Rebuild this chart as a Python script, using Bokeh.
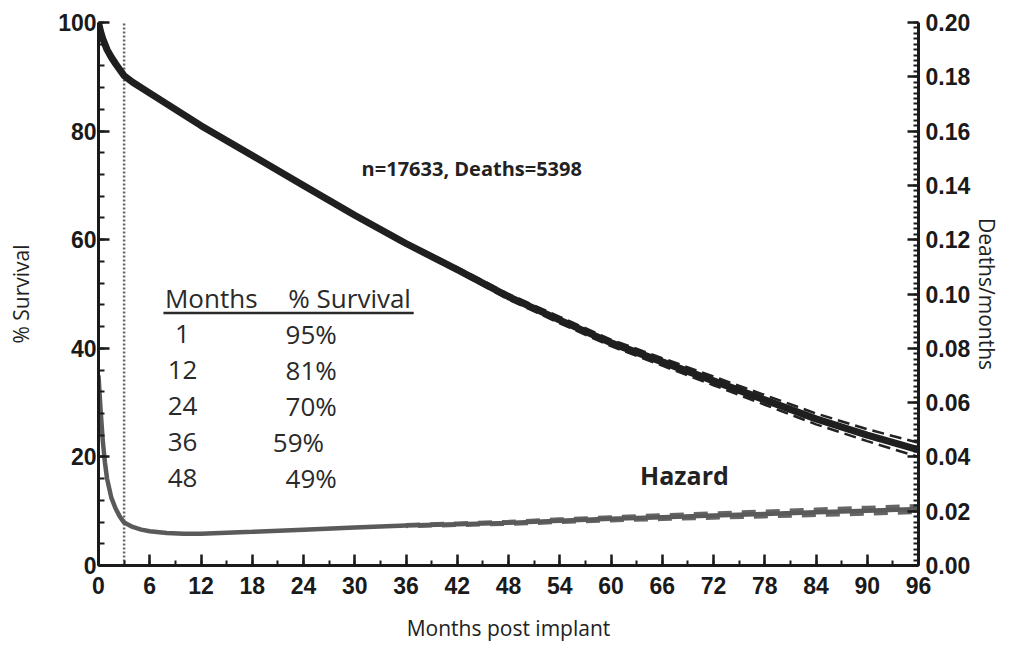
from bokeh.plotting import figure
from bokeh.models import (Range1d, LinearAxis, SingleIntervalTicker, NumeralTickFormatter, Label)
from bokeh.core.properties import value
from bokeh.embed import file_html
from bokeh.resources import INLINE

# ---------------- data ----------------
surv_months = [0, 0.25, 0.5, 1, 1.5, 2, 3, 4, 6, 9, 12, 18, 24, 30, 36, 42, 48, 54, 60, 66, 72, 78, 84, 90, 96]
survival = [100, 98.3, 97, 95, 93.6, 92.4, 90.2, 89, 87, 84, 81, 75.5, 70, 64.5, 59.3, 54.5, 49.5, 45.2, 41, 37.5, 34, 30.5, 27, 24, 21.3]

surv_ci_months = [36, 42, 48, 54, 60, 66, 72, 78, 84, 90, 96]
surv_upper = [59.6, 54.9, 50.0, 45.8, 41.6, 38.2, 34.8, 31.4, 28.0, 25.1, 22.6]
surv_lower = [59.0, 54.1, 49.0, 44.6, 40.4, 36.8, 33.2, 29.6, 26.0, 22.9, 20.0]

haz_months = [0, 0.25, 0.5, 0.75, 1, 1.5, 2, 2.5, 3, 4, 5, 6, 8, 10, 12, 18, 24, 30, 36, 42, 48, 54, 60, 66, 72, 78, 84, 90, 96]
hazard = [0.070, 0.057, 0.046, 0.038, 0.032, 0.025, 0.021, 0.018, 0.0158, 0.0142, 0.0132, 0.0126, 0.012, 0.0117,
          0.0117, 0.0124, 0.0132, 0.014, 0.0147, 0.0152, 0.0157, 0.0165, 0.0172, 0.0178, 0.0184, 0.019, 0.0196,
          0.0202, 0.0208]

haz_ci_months = [36, 42, 48, 54, 60, 66, 72, 78, 84, 90, 96]
haz_upper = [0.0150, 0.0156, 0.0162, 0.0171, 0.0179, 0.0186, 0.0193, 0.0200, 0.0207, 0.0214, 0.0220]
haz_lower = [0.0144, 0.0148, 0.0152, 0.0159, 0.0165, 0.0170, 0.0175, 0.0180, 0.0185, 0.0190, 0.0196]

cutoff_month = 3

table_months = ["1", "12", "24", "36", "48"]
table_survival = ["95%", "81%", "70%", "59%", "49%"]

x_ticks_interval = 6
annotation_text = "n=17633, Deaths=5398"
hazard_text = "Hazard"

# ---------------- figure ----------------
W, H = 1006, 648
p = figure(width=W, height=H, output_backend="svg", toolbar_location=None,
           x_range=Range1d(0, 96), y_range=Range1d(0, 100),
           min_border_left=98, min_border_right=88, min_border_top=22, min_border_bottom=83)
p.outline_line_color = None
p.xgrid.visible = False
p.ygrid.visible = False
p.background_fill_color = "white"
p.border_fill_color = "white"
p.extra_y_ranges = {"haz": Range1d(0, 0.2)}

tick_font = "Liberation Sans"
title_font = "Open Sans"

def style_axis(ax, minor_len):
    ax.axis_line_width = 3
    ax.axis_line_color = "#1a1a1a"
    ax.major_tick_line_width = 2.5
    ax.minor_tick_line_width = 2
    ax.major_tick_line_color = "#1a1a1a"
    ax.minor_tick_line_color = "#1a1a1a"
    ax.major_tick_in = 11
    ax.major_tick_out = 0
    ax.minor_tick_in = minor_len
    ax.minor_tick_out = 0
    ax.major_label_text_font = tick_font
    ax.major_label_text_font_size = "23px"
    ax.major_label_text_font_style = "bold"
    ax.major_label_text_color = "#1a1a1a"
    ax.axis_label_text_font = title_font
    ax.axis_label_text_font_size = "21px"
    ax.axis_label_text_font_style = "normal"
    ax.axis_label_text_color = "#222222"

# bottom axis
xa = p.xaxis[0]
xa.ticker = SingleIntervalTicker(interval=x_ticks_interval, num_minor_ticks=2)
style_axis(xa, 5)
xa.major_label_standoff = 11
xa.axis_label = "Months post implant"
xa.axis_label_standoff = 17

# left axis
ya = p.yaxis[0]
ya.ticker = SingleIntervalTicker(interval=20, num_minor_ticks=5)
style_axis(ya, 6)
ya.major_label_standoff = 2
ya.axis_label = "% Survival"
ya.axis_label_standoff = 20

# right axis
ra = LinearAxis(y_range_name="haz", ticker=SingleIntervalTicker(interval=0.02, num_minor_ticks=10),
                formatter=NumeralTickFormatter(format="0.00"))
style_axis(ra, 5)
ra.major_label_standoff = 7
ra.axis_label = "Deaths/months"
ra.axis_label_standoff = 0
p.add_layout(ra, "right")

# ---------------- marks ----------------
# cutoff dotted line
p.line([cutoff_month, cutoff_month], [0, 100], line_color="#666666", line_width=2.5, line_dash="2 2")

# hazard (right axis)
p.line(haz_ci_months, haz_upper, y_range_name="haz", line_color="#666666", line_width=3.5, line_dash="14 10")
p.line(haz_ci_months, haz_lower, y_range_name="haz", line_color="#666666", line_width=3.5, line_dash="14 10",
       line_dash_offset=12)
p.line(haz_months, hazard, y_range_name="haz", line_color="#5a5a5a", line_width=4.5)

# survival
p.line(surv_ci_months, surv_upper, line_color="#222222", line_width=2.5, line_dash="12 6")
p.line(surv_ci_months, surv_lower, line_color="#222222", line_width=2.5, line_dash="12 6", line_dash_offset=8)
p.line(surv_months, survival, line_color="#1f1f1f", line_width=7, line_join="round", line_cap="round")

# ---------------- annotations ----------------
p.add_layout(Label(x=43.7, y=73.1, text=annotation_text, text_font=title_font, text_font_size="20px",
                   text_font_style="bold", text_align="center", text_baseline="middle", text_color="#222222"))
p.add_layout(Label(x=68.6, y=16.6, text=hazard_text, text_font=title_font, text_font_size="25px",
                   text_font_style="bold", text_align="center", text_baseline="middle", text_color="#222222"))

# summary table
row_y0 = 49.2
row_step = 6.63
col_months_x = 9.84
col_surv_x = 24.9
surv_nudge = [0, 0, 0, -1.5, 0]
rows_y = [row_y0 - row_step * (i + 1) for i in range(len(table_months))]
tfs = "26px"

p.text(x=[13.2, 29.4], y=[row_y0, row_y0], text=["Months", "% Survival"], text_font=value(title_font),
       text_font_size=tfs, text_align="center", text_baseline="middle", text_color="#2a2a2a")
p.segment(x0=[7.6], y0=[row_y0 - 2.7], x1=[36.9], y1=[row_y0 - 2.7], line_color="#2a2a2a", line_width=2.5)
p.text(x=[col_months_x] * len(table_months), y=rows_y, text=table_months, text_font=value(title_font),
       text_font_size=tfs, text_align="center", text_baseline="middle", text_color="#2a2a2a")
p.text(x=[col_surv_x + n for n in surv_nudge], y=rows_y, text=table_survival, text_font=value(title_font),
       text_font_size=tfs, text_align="center", text_baseline="middle", text_color="#2a2a2a")

open("out.html", "w").write(file_html(p, INLINE))
